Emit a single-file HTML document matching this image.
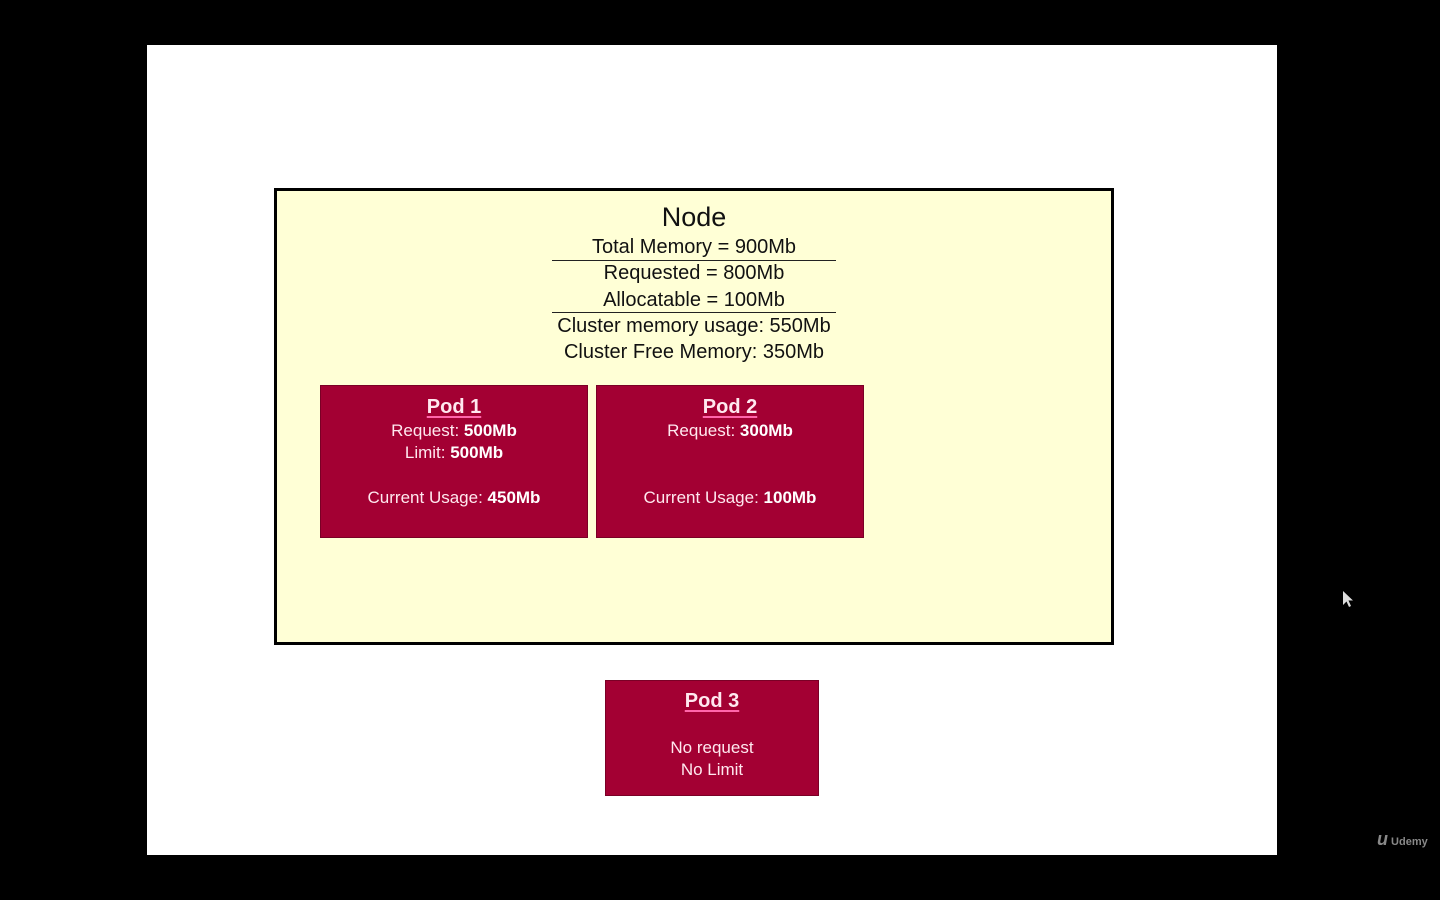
<!DOCTYPE html>
<html><head><meta charset="utf-8"><style>
html,body{margin:0;padding:0;background:#000;width:1440px;height:900px;overflow:hidden;font-family:"Liberation Sans",sans-serif}
.slide{position:absolute;left:147px;top:45px;width:1130px;height:810px;background:#fff}
.node{position:absolute;left:274px;top:188px;width:834px;height:451px;border:3px solid #000;background:#ffffd6}
.t{position:absolute;left:0;width:100%;text-align:center;color:#111;white-space:nowrap}
.ln{position:absolute;left:552px;width:284px;height:1px;background:#222}
.pod{position:absolute;background:#a30033;border:1px solid #7a0026;color:#fde;box-sizing:border-box}
.pod .t{color:#ffe8ef;font-size:17px}
.pod .h{font-weight:bold;font-size:20px;text-decoration:underline;text-decoration-color:#f6a;text-underline-offset:3px}
b{color:#fff}
</style></head><body>
<div class="slide"></div>
<div class="node"></div>
<div style="position:absolute;left:274px;width:840px;top:2px">
<div class="t" style="top:200px;font-size:27px">Node</div>
<div class="t" style="top:234px;font-size:20px">Total Memory = 900Mb</div>
<div class="t" style="top:260px;font-size:20px">Requested = 800Mb</div>
<div class="t" style="top:287px;font-size:20px">Allocatable = 100Mb</div>
<div class="t" style="top:313px;font-size:20px">Cluster memory usage: 550Mb</div>
<div class="t" style="top:339px;font-size:20px">Cluster Free Memory: 350Mb</div>
</div>
<div class="ln" style="top:260px"></div>
<div class="ln" style="top:312px"></div>

<div class="pod" style="left:320px;top:385px;width:268px;height:153px">
<div class="t h" style="top:10px">Pod 1</div>
<div class="t" style="top:35px">Request: <b>500Mb</b></div>
<div class="t" style="top:57px">Limit: <b>500Mb</b></div>
<div class="t" style="top:102px">Current Usage: <b>450Mb</b></div>
</div>
<div class="pod" style="left:596px;top:385px;width:268px;height:153px">
<div class="t h" style="top:10px">Pod 2</div>
<div class="t" style="top:35px">Request: <b>300Mb</b></div>
<div class="t" style="top:102px">Current Usage: <b>100Mb</b></div>
</div>
<div class="pod" style="left:605px;top:680px;width:214px;height:116px">
<div class="t h" style="top:9px">Pod 3</div>
<div class="t" style="top:57px">No request</div>
<div class="t" style="top:79px">No Limit</div>
</div>
<svg style="position:absolute;left:1343px;top:591px" width="12" height="18"><path d="M0 0 L0 14 L3.5 10.5 L6 16 L8 15 L5.5 9.5 L10 9.5 Z" fill="#ddd"/></svg>
<div style="position:absolute;left:1377px;top:829px;color:#888;font-size:11px;font-weight:bold"><span style="font-size:18px;font-style:italic">u</span> Udemy</div>
</body></html>
